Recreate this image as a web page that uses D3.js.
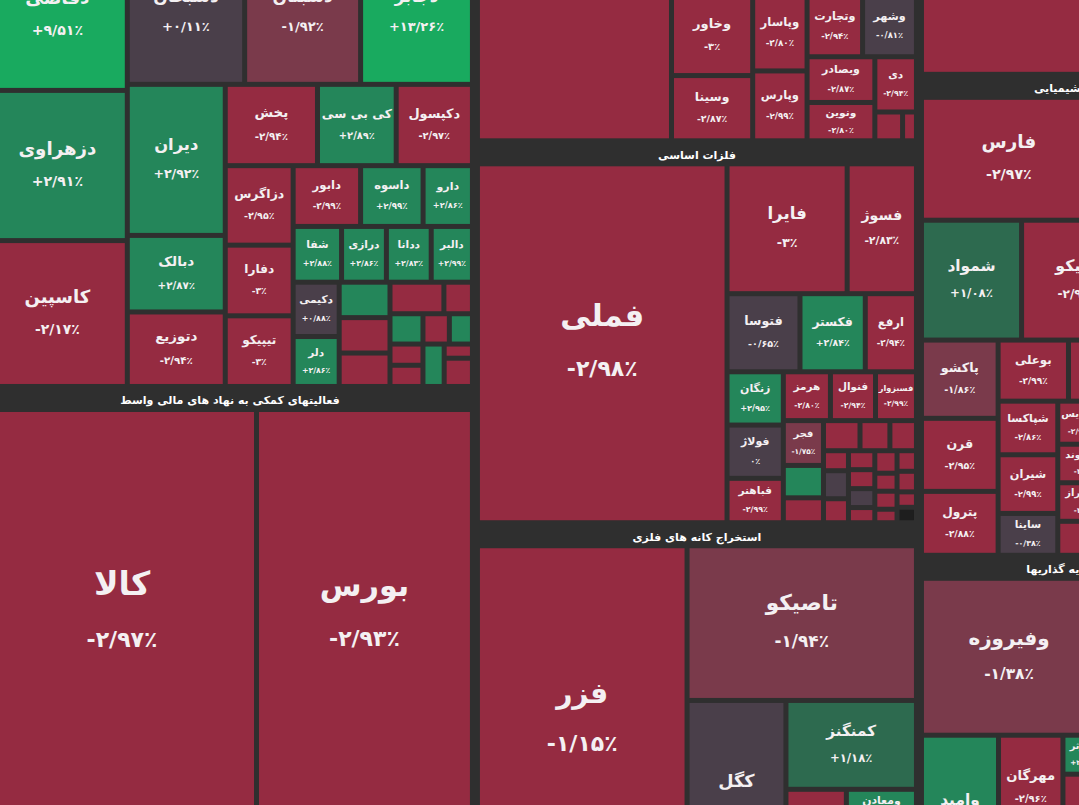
<!DOCTYPE html>
<html>
<head>
<meta charset="utf-8">
<script src="https://cdn.jsdelivr.net/npm/d3@7"></script>
<style>
  html, body { margin: 0; padding: 0; background: #2f2f2f; overflow: hidden; }
  svg { display: block; }
</style>
</head>
<body>
<div id="container"></div>
<script>
// ---------------- data ----------------
// each leaf: [symbol, change %, market value]; "" = cell without a readable label
var sectorNames = ["مواد و محصولات دارویی", "فعالیتهای کمکی به نهاد های مالی واسط", "",
                   "بانکها و موسسات اعتباری", "فلزات اساسی", "استخراج کانه های فلزی",
                   "", "محصولات شیمیایی", "سرمایه گذاریها", ""];

var pharma = [
  ["دقاضی", 9.51, 211], ["دزهراوی", 2.91, 210], ["کاسپین", -2.17, 204],
  ["دسبحان", 0.11, 170], ["دشبتان", -1.92, 168], ["دجابر", 13.26, 162],
  ["دیران", 2.92, 148], ["دبالک", 2.87, 75], ["دتوزیع", -2.94, 73],
  ["پخش", -2.94, 75], ["کی بی سی", 2.89, 64], ["دکپسول", -2.97, 62],
  ["دزاگرس", -2.95, 54], ["دفارا", -3, 48], ["تیپیکو", -3, 48],
  ["دابور", -2.99, 41], ["داسوه", 2.99, 38], ["دارو", 2.86, 30],
  ["شفا", 2.88, 27], ["درازی", 2.86, 25], ["ددانا", 2.83, 25], ["دالبر", 2.99, 23],
  ["دکیمی", 0.88, 25], ["دلر", 2.86, 23],
  ["", 2.9, 18], ["", -2.9, 18], ["", -2.9, 17], ["", -2.9, 17], ["", -2.9, 9],
  ["", 2.9, 10], ["", -2.9, 7], ["", -2.9, 7], ["", -2.9, 8], ["", 2.9, 7],
  ["", 2.9, 9], ["", -2.9, 4], ["", -2.9, 8]
];
var pharmaSplit = ["row", ["col", 0, 1, 2],
  ["col", ["row", 3, 4, 5],
    ["row", ["col", 6, 7, 8],
      ["col", ["row", 9, 10, 11],
        ["row", ["col", 12, 13, 14],
          ["col", ["row", 15, 16, 17],
            ["col", ["row", 18, 19, 20, 21],
              ["row", ["col", 22, 23],
                ["row", ["col", 24, 25, 26],
                  ["col", ["row", 27, 28],
                    ["row", ["col", 29, 30, 31], ["col", ["row", 32, 33], ["row", 34, ["col", 35, 36]]]]]]]]]]]]]];

var finance = [["کالا", -2.97, 1095], ["بورس", -2.93, 879]];
var financeSplit = ["row", 0, 1];

var leftBelow = [["", -2.9, 262]];

var bank = [
  ["", -2.9, 246], ["", -2.9, 282], ["وخاور", -3, 65], ["وسینا", -2.87, 53],
  ["وپاسار", -2.80, 41], ["وپارس", -2.99, 38], ["وتجارت", -2.94, 34], ["وشهر", -0.81, 33],
  ["وبصادر", -2.87, 31], ["ونوین", -2.80, 26], ["دی", -2.94, 23], ["", -2.9, 8], ["", -2.9, 4]
];
var bankSplit = ["col", 0, ["row", 1, ["col", 2, 3], ["col", 4, 5],
  ["col", ["row", 6, 7], ["row", ["col", 8, 9], ["col", 10, ["row", 11, 12]]]]]];

var metal = [
  ["فملی", -2.98, 896], ["فایرا", -3, 156], ["فسوژ", -2.83, 90],
  ["فتوسا", -0.65, 57], ["فکستر", 2.84, 51], ["ارفع", -2.94, 40],
  ["زنگان", 2.95, 30], ["فولاژ", 0, 30], ["فباهنر", -2.99, 25],
  ["هرمز", -2.80, 23], ["فنوال", -2.94, 22], ["فسبزوار", -2.99, 20],
  ["فجر", -1.75, 18], ["", 2.9, 13], ["", -2.9, 10],
  ["", -2.9, 11], ["", -2.9, 9], ["", -2.9, 8],
  ["", -2.9, 5], ["", -0.3, 7], ["", -2.9, 6],
  ["", -2.9, 5], ["", -2.9, 5], ["", -0.3, 5], ["", -2.9, 4],
  ["", -2.9, 5], ["", -2.9, 4], ["", -2.9, 4], ["", -2.9, 3],
  ["", -2.9, 4], ["", -2.9, 4], ["", -2.9, 3], ["", null, 3]
];
var metalSplit = ["row", 0, ["col", ["row", 1, 2],
  ["col", ["row", 3, 4, 5],
    ["row", ["col", 6, 7, 8],
      ["col", ["row", 9, 10, 11],
        ["row", ["col", 12, 13, 14],
          ["col", ["row", 15, 16, 17],
            ["row", ["col", 18, 19, 20], ["col", 21, 22, 23, 24], ["col", 25, 26, 27, 28], ["col", 29, 30, 31, 32]]]]]]]]];

var mining = [["فزر", -1.15, 729], ["تاصیکو", -1.94, 355], ["کگل", -0.4, 191],
              ["کمنگنز", 1.18, 116], ["", -2.9, 25], ["ومعادن", 2.5, 29], ["", -2.9, 82]];
var miningSplit = ["row", 0, ["col", 1, ["row", 2, ["col", 3, ["row", 4, 5], 6]]]];

var rightTop = [["", -2.9, 441]];

var chem = [
  ["فارس", -2.97, 215], ["", -2.9, 187],
  ["شمواد", 1.08, 120], ["تاپیکو", -2.98, 133], ["", -2.9, 139],
  ["پاکشو", -1.86, 60], ["قرن", -2.95, 56], ["پترول", -2.88, 49],
  ["بوعلی", -2.99, 43], ["", -2.9, 110],
  ["شپاکسا", -2.86, 32], ["شیران", -2.99, 35], ["ساینا", -0.38, 25],
  ["شپدیس", -2.9, 19], ["شاوند", -3, 17], ["شیراز", -3, 17], ["", -2.9, 15],
  ["", -2.9, 226]
];
var chemSplit = ["col", ["row", 0, 1], ["row", 2, 3, 4],
  ["row", ["col", 5, 6, 7], ["col", ["row", 8, 9], ["row", ["col", 10, 11, 12], ["col", 13, 14, 15, 16], 17]]]];

var invest = [["وفیروزه", -1.38, 275], ["", -2.9, 182], ["وامید", 2.9, 122],
              ["مهرگان", -2.96, 67], ["", -2.9, 35], ["وکوثر", 2.5, 16], ["", -2.9, 49], ["", -2.9, 172]];
var investSplit = ["col", ["row", 0, 1], ["row", 2, ["col", 3, 4], ["col", 5, 6], 7]];

var investSide = [["", -2.9, 113]];

// change on the closing price, where the cell colour follows it instead of the last price
var closeChange = [["فزر", -2.3]];

// ---------------- layout ----------------
var W = 1079, H = 805;
var HEAD = 23, GAP = 5, COL_GAP = 10;

function build(split, leaves) {
  if (typeof split === "number") {
    var l = leaves[split];
    return {name: l[0], change: l[1], size: l[2]};
  }
  return {dir: split[0], children: split.slice(1).map(function(s) { return build(s, leaves); })};
}
function sector(i, leaves, split) {
  var node = build(typeof split === "number" ? ["row", split] : split, leaves);
  node.title = sectorNames[i];
  return node;
}

var data = {dir: "row", children: [
  {dir: "col", children: [sector(0, pharma, pharmaSplit), sector(1, finance, financeSplit), sector(2, leftBelow, 0)]},
  {dir: "col", children: [sector(3, bank, bankSplit), sector(4, metal, metalSplit), sector(5, mining, miningSplit)]},
  {dir: "col", children: [sector(6, rightTop, 0), sector(7, chem, chemSplit),
    {dir: "row", head: true, children: [sector(8, invest, investSplit), sector(9, investSide, 0)]}]}
]};

// slice / dice by value, keeping room for sector headers and the wider column gaps
function tile(node, x0, y0, x1, y1) {
  var kids = node.children, horiz = node.data.dir === "row";
  var fixed = kids.map(function(c) {
    var f = 0;
    if (!horiz && (c.data.title !== undefined || c.data.head)) f += HEAD;
    if (node.depth === 0) f += COL_GAP - GAP;
    return f;
  });
  var total = d3.sum(kids, function(c) { return c.value; });
  var span = (horiz ? x1 - x0 : y1 - y0) - d3.sum(fixed);
  var pos = horiz ? x0 : y0;
  kids.forEach(function(c, i) {
    var size = fixed[i] + span * c.value / total;
    if (horiz) { c.x0 = pos; c.x1 = pos + size; c.y0 = y0; c.y1 = y1; }
    else { c.y0 = pos; c.y1 = pos + size; c.x0 = x0; c.x1 = x1; }
    pos += size;
  });
}

var root = d3.hierarchy(data).sum(function(d) { return d.size || 0; });
d3.treemap()
  .tile(tile)
  .size([1256, 972])
  .paddingInner(function(n) { return n.depth === 0 ? COL_GAP : GAP; })
  .paddingTop(function(n) { return n.data.title !== undefined ? HEAD : 0; })
  (root);

var color = d3.scaleThreshold()
  .domain([-2, -1, 1, 2, 5])
  .range(["#952b41", "#7a3a4b", "#4a3f4a", "#2d6a4f", "#24865a", "#19aa5f"]);
var closeMap = new Map(closeChange);
function fillOf(d) {
  if (d.change === null) return "#1e1e1e";
  return color(closeMap.has(d.name) ? closeMap.get(d.name) : d.change);
}

function fa(s) { return s.replace(/[0-9]/g, function(d) { return "۰۱۲۳۴۵۶۷۸۹"[d]; }); }
function fmtChange(v) {
  var a = Math.abs(v);
  var s = Math.round(a * 100) % 100 === 0 ? String(Math.round(a)) : a.toFixed(2);
  return (v > 0 ? "+" : v < 0 ? "-" : "") + fa(s).replace(".", "/") + "٪";
}

// ---------------- drawing ----------------
var svg = d3.select("#container").append("svg")
    .attr("width", W).attr("height", H)
    .attr("id", "chart")
    .style("background", "#2f2f2f")
    .style("font-family", "'DejaVu Sans', sans-serif");

var g = svg.append("g").attr("transform", "translate(-10,-81)");
var defs = svg.append("defs");

var leaves = root.leaves();

g.selectAll("rect.cell")
  .data(leaves)
  .enter().append("rect")
    .attr("class", "cell")
    .attr("x", function(d) { return d.x0; })
    .attr("y", function(d) { return d.y0; })
    .attr("width", function(d) { return Math.max(0, d.x1 - d.x0); })
    .attr("height", function(d) { return Math.max(0, d.y1 - d.y0); })
    .attr("fill", function(d) { return fillOf(d.data); });

var labelled = leaves.filter(function(d) {
  return d.data.name && d.x1 - d.x0 >= 30 && d.y1 - d.y0 >= 30;
});

labelled.forEach(function(d, i) {
  var w = d.x1 - d.x0, h = d.y1 - d.y0;
  var cx = (d.x0 + d.x1) / 2, cy = (d.y0 + d.y1) / 2;
  var s = Math.sqrt(w * h);
  var fp = Math.min(22, 5 + 0.065 * s);
  var fn = 7 + 0.08 * s;
  defs.append("clipPath").attr("id", "clip" + i)
    .append("rect")
      .attr("x", d.x0).attr("y", d.y0).attr("width", w).attr("height", h);
  var lab = g.append("g").attr("clip-path", "url(#clip" + i + ")");
  var name = lab.append("text")
      .attr("x", cx)
      .attr("text-anchor", "middle")
      .attr("font-weight", "bold")
      .attr("fill", "#f4f0f2")
      .attr("font-size", fn)
      .text(d.data.name);
  var len = name.node().getComputedTextLength();
  if (len > w * 0.95) { fn = Math.max(fn * w * 0.95 / len, fn * 0.8); name.attr("font-size", fn); }
  name.attr("y", cy - (fn + fp) / 2 + 0.3 * fn);
  lab.append("text")
      .attr("x", cx)
      .attr("y", cy + (fn + fp) / 2 + 0.3 * fp)
      .attr("text-anchor", "middle")
      .attr("font-weight", "bold")
      .attr("fill", "#f4f0f2")
      .attr("font-size", fp)
      .text(fmtChange(d.data.change));
});

// sector headers, centred over their sector
var sectorsDrawn = root.descendants().filter(function(d) { return d.data.title; });
g.selectAll("text.head")
  .data(sectorsDrawn)
  .enter().append("text")
    .attr("class", "head")
    .attr("x", function(d) { return (d.x0 + d.x1) / 2; })
    .attr("y", function(d) { return d.y0 + HEAD / 2 + 4; })
    .attr("text-anchor", "middle")
    .attr("font-weight", "bold")
    .attr("font-size", 11)
    .attr("fill", "#ffffff")
    .text(function(d) { return d.data.title; });
</script>
</body>
</html>
